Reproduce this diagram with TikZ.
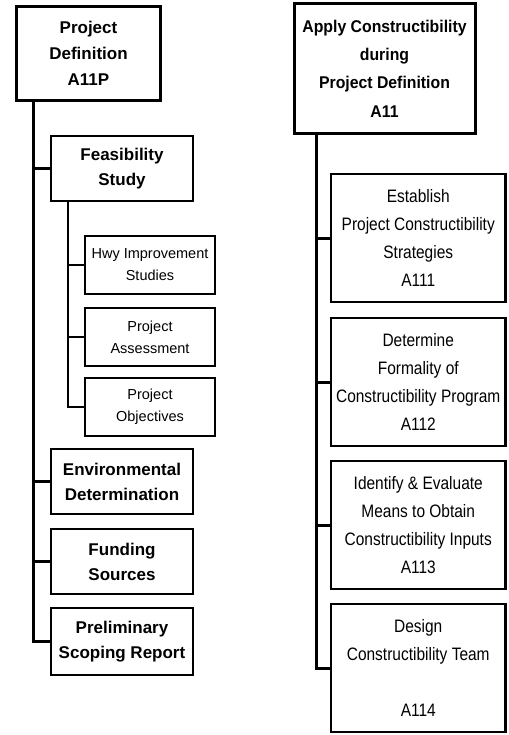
\documentclass[tikz,border=0pt]{standalone}
\usepackage{fontspec}
\setmainfont{Liberation Sans}
\newfontfamily\narrowfont[FakeStretch=0.86]{Liberation Sans}
\newfontfamily\narrowboldfont[FakeStretch=0.93]{Liberation Sans Bold}
\begin{document}
\begin{tikzpicture}[x=1pt,y=-1pt,
  box/.style={draw,rectangle,align=center,inner sep=0pt,anchor=center},
  mainbox/.style={box,line width=3pt,font=\fontsize{17}{26}\selectfont\bfseries},
  secbox/.style={box,line width=2.6pt,minimum width=142pt,minimum height=65pt,font=\fontsize{17}{25}\selectfont\bfseries},
  subbox/.style={box,line width=2pt,minimum width=130pt,minimum height=58pt,font=\fontsize{14.5}{22}\selectfont},
  rmain/.style={box,line width=3pt,minimum width=181pt,minimum height=130pt,font=\narrowboldfont\fontsize{17}{28.3}\selectfont},
  rbox/.style={box,line width=2.6pt,minimum width=174.5pt,minimum height=128pt,font=\narrowfont\fontsize{18}{28}\selectfont},
  trunk/.style={line width=3pt},
  subtrunk/.style={line width=2pt}]
\useasboundingbox (0,0) rectangle (508,735);

% left hierarchy
\node[mainbox,minimum width=144pt,minimum height=94pt] (pd) at (88.5,53.5) {Project\\Definition\\A11P};
\node[secbox] (feas) at (122,168.5) {Feasibility\\Study};
\node[subbox] (hwy) at (150,265) {Hwy Improvement\\Studies};
\node[subbox] (assess) at (150,337) {Project\\Assessment};
\node[subbox] (obj) at (150,407) {Project\\Objectives};
\node[secbox] (env) at (122,481.5) {Environmental\\Determination};
\node[secbox] (fund) at (122,561.5) {Funding\\Sources};
\node[secbox,minimum height=67pt] (prelim) at (122,641.5) {Preliminary\\Scoping Report};

\coordinate (lt) at (33,0);
\coordinate (st) at (68,0);
\draw[trunk] (pd.south -| lt) |- (prelim.west);
\foreach \n in {feas,env,fund}
  \draw[trunk] (pd.south -| lt) |- (\n.west);
\draw[subtrunk] (feas.south -| st) |- (obj.west);
\foreach \n in {hwy,assess}
  \draw[subtrunk] (feas.south -| st) |- (\n.west);

% right hierarchy
\node[rmain] (ac) at (384.5,68.5) {Apply Constructibility\\during\\Project Definition\\A11};
\node[rbox] (a111) at (418.25,238) {Establish\\Project Constructibility\\Strategies\\A111};
\node[rbox] (a112) at (418.25,382) {Determine\\Formality of\\Constructibility Program\\A112};
\node[rbox] (a113) at (418.25,525) {Identify \& Evaluate\\Means to Obtain\\Constructibility Inputs\\A113};
\node[rbox] (a114) at (418.25,668) {Design\\Constructibility Team\\[28pt]A114};

\coordinate (rt) at (316,0);
\draw[trunk] (ac.south -| rt) |- (a114.west);
\foreach \n in {a111,a112,a113}
  \draw[trunk] (ac.south -| rt) |- (\n.west);
\end{tikzpicture}
\end{document}
